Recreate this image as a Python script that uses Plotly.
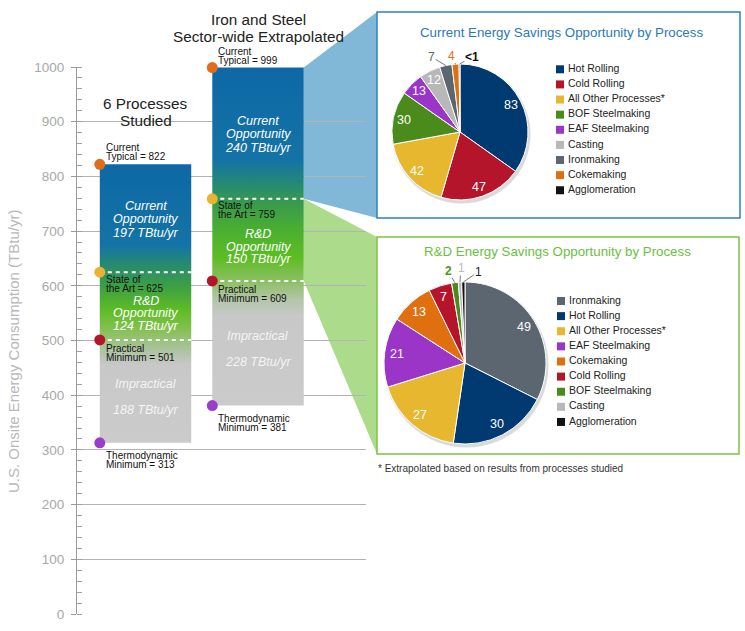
import math
import plotly.graph_objects as go

W, H = 745, 631

# ---------------- data ----------------
column_titles = [["6 Processes", "Studied"], ["Iron and Steel", "Sector-wide Extrapolated"]]
current_typical = [822, 999]
state_of_the_art = [625, 759]
practical_minimum = [501, 609]
thermodynamic_minimum = [313, 381]
current_opportunity = [197, 240]
rd_opportunity = [124, 150]
impractical = [188, 228]
y_tick_values = [0, 100, 200, 300, 400, 500, 600, 700, 800, 900, 1000]

current_processes = ["Hot Rolling", "Cold Rolling", "All Other Processes*", "BOF Steelmaking",
                     "EAF Steelmaking", "Casting", "Ironmaking", "Cokemaking", "Agglomeration"]
current_savings = [83, 47, 42, 30, 13, 12, 7, 4, 0.5]
current_savings_text = ["83", "47", "42", "30", "13", "12", "7", "4", "<1"]

rd_processes = ["Ironmaking", "Hot Rolling", "All Other Processes*", "EAF Steelmaking",
                "Cokemaking", "Cold Rolling", "BOF Steelmaking", "Casting", "Agglomeration"]
rd_savings = [49, 30, 27, 21, 13, 7, 2, 1, 1]
rd_savings_text = ["49", "30", "27", "21", "13", "7", "2", "1", "1"]

# ---------------- styles ----------------
FONT = "Liberation Sans, Arial, sans-serif"
process_colors = {
    "Hot Rolling": "#003a70", "Cold Rolling": "#b5152b", "All Other Processes*": "#e6b72f",
    "BOF Steelmaking": "#4a8b1c", "EAF Steelmaking": "#9a35c8", "Casting": "#b8b8b8",
    "Ironmaking": "#5c6670", "Cokemaking": "#e0700f", "Agglomeration": "#111111",
}
marker_colors = ["#e06c1e", "#e8b533", "#b5152b", "#9b3dcc"]
gradient_stops = [
    [(313, "#cbcbcb"), (455, "#c8c8c8"), (485, "#a9c39b"), (520, "#85c052"), (555, "#5ebd24"),
     (600, "#3c9f44"), (640, "#268a72"), (675, "#1473a6"), (822, "#0d68a5")],
    [(381, "#cbcbcb"), (545, "#c8c8c8"), (575, "#b3c6a8"), (610, "#8abf62"), (650, "#5ebd24"),
     (700, "#4bb030"), (750, "#3a9a4c"), (785, "#268a72"), (830, "#1473a6"), (999, "#0d68a5")],
]

PLOT_L, PLOT_R, PLOT_T, PLOT_B = 77, 366, 67, 614
X_RANGE = [0.391, 2.96]
Y_RANGE = [0, 1000]
BAR_POS = [1, 2]
BAR_W = 0.813


def xpx(x):
    return PLOT_L + (x - X_RANGE[0]) / (X_RANGE[1] - X_RANGE[0]) * (PLOT_R - PLOT_L)


def ypx(v):
    return PLOT_B - (v - Y_RANGE[0]) / (Y_RANGE[1] - Y_RANGE[0]) * (PLOT_B - PLOT_T)


def pxx(p):
    return p / W


def pxy(p):
    return 1 - p / H


fig = go.Figure()
annotations = []


def ann(text, x, y, size, color, xref="paper", yref="paper", xanchor="center", yanchor="middle",
        xshift=0, yshift=0, **kw):
    d = dict(text=text, x=x, y=y, xref=xref, yref=yref, xanchor=xanchor, yanchor=yanchor,
             xshift=xshift, yshift=yshift, showarrow=False, borderpad=0,
             font=dict(family=FONT, size=size, color=color))
    d.update(kw)
    annotations.append(d)


# ---------------- bars (gradient polygons) ----------------
for i in range(2):
    c = BAR_POS[i]
    x0, x1 = c - BAR_W / 2, c + BAR_W / 2
    lo, hi = thermodynamic_minimum[i], current_typical[i]
    cs = [[(v - lo) / (hi - lo), col] for v, col in gradient_stops[i]]
    fig.add_trace(go.Scatter(
        x=[x0, x1, x1, x0, x0], y=[lo, lo, hi, hi, lo], mode="lines",
        line=dict(width=0, color="rgba(0,0,0,0)"), fill="toself",
        fillgradient=dict(type="vertical", colorscale=cs, start=lo, stop=hi),
        hoverinfo="skip", showlegend=False))
    for v in (state_of_the_art[i], practical_minimum[i]):
        fig.add_trace(go.Scatter(x=[x0, x1], y=[v, v], mode="lines",
                                 line=dict(color="white", width=2, dash="4px,4px"),
                                 hoverinfo="skip", showlegend=False))
    vals = [current_typical[i], state_of_the_art[i], practical_minimum[i], thermodynamic_minimum[i]]
    fig.add_trace(go.Scatter(x=[x0] * 4, y=vals, mode="markers", cliponaxis=False,
                             marker=dict(size=11, color=marker_colors, line=dict(width=0)),
                             hoverinfo="skip", showlegend=False))
    # marker labels
    label_lines = [("Current", "Typical = %d"), ("State of", "the Art = %d"),
                   ("Practical", "Minimum = %d"), ("Thermodynamic", "Minimum = %d")]
    offsets = [(-16.5, -7.5), (7, 16), (8.5, 17.5), (13, 22)]
    for (l1, l2), (o1, o2), v in zip(label_lines, offsets, vals):
        ann(l1, x0, v, 10, "#111", xref="x", yref="y", xanchor="left", xshift=5, yshift=-o1)
        ann(l2 % v, x0, v, 10, "#111", xref="x", yref="y", xanchor="left", xshift=5, yshift=-o2)
    # in-bar texts
    blocks = [
        ((current_typical[i] + state_of_the_art[i]) / 2, 1,
         ["Current", "Opportunity", "%d TBtu/yr" % current_opportunity[i]], 13.5, "white"),
        ((state_of_the_art[i] + practical_minimum[i]) / 2, 7,
         ["R&D", "Opportunity", "%d TBtu/yr" % rd_opportunity[i]], 12.5, "white"),
        ((practical_minimum[i] + thermodynamic_minimum[i]) / 2, 6,
         ["Impractical", "%d TBtu/yr" % impractical[i]], 26, "rgba(255,255,255,0.82)"),
    ]
    for yc, shift, lines, spacing, col in blocks:
        n = len(lines)
        for k, t in enumerate(lines):
            off = shift + (k - (n - 1) / 2) * spacing
            ann("<i>%s</i>" % t, c, yc, 12.5, col, xref="x", yref="y", yshift=-off)
    # column titles
    for k, t in enumerate(column_titles[i]):
        ann(t, c, pxy([103, 120][k] if i == 0 else [19, 36][k]), 15.3, "#222", xref="x")

# ---------------- pies ----------------
pies = [
    dict(labels=current_processes, values=current_savings, text=current_savings_text,
         cx=460, cy=132, r=68, out_pos=[(431.5, 57), (451, 55.5), (472, 57)],
         out_colors=["#666666", "#e07020", "#111111"], out_bold=[False, False, True]),
    dict(labels=rd_processes, values=rd_savings, text=rd_savings_text,
         cx=465, cy=363, r=81, out_pos=[(448, 271), (461, 268), (478, 272)],
         out_colors=["#4a9a20", "#bbbbbb", "#222222"], out_bold=[True, False, False]),
]
pie_shadows = []
for p in pies:
    n = len(p["values"])
    fig.add_trace(go.Pie(
        labels=p["labels"], values=p["values"], textinfo="none",
        sort=False, direction="clockwise", rotation=0,
        marker=dict(colors=[process_colors[l] for l in p["labels"]], line=dict(color="white", width=1)),
        domain=dict(x=[pxx(p["cx"] - p["r"]), pxx(p["cx"] + p["r"])],
                    y=[pxy(p["cy"] + p["r"]), pxy(p["cy"] - p["r"])]),
        showlegend=False, hoverinfo="label+value"))
    total = sum(p["values"])
    for idx in range(n):
        mid = (sum(p["values"][:idx]) + p["values"][idx] / 2) / total * 2 * math.pi
        if idx < n - 3:
            rr = 0.85 * p["r"]
            tx = p["cx"] + rr * math.sin(mid)
            ty = p["cy"] - rr * math.cos(mid)
            ann(p["text"][idx], pxx(tx), pxy(ty), 12.5, "white")
        else:
            j = idx - (n - 3)
            hx = p["cx"] + p["r"] * math.sin(mid)
            hy = p["cy"] - p["r"] * math.cos(mid)
            tx, ty = p["out_pos"][j]
            t = p["text"][idx]
            if p["out_bold"][j]:
                t = "<b>%s</b>" % t
            annotations.append(dict(
                text=t, x=pxx(hx), y=pxy(hy), xref="paper", yref="paper", showarrow=True,
                ax=tx - hx, ay=ty - hy, arrowhead=0, arrowwidth=0.8, arrowcolor="#555",
                standoff=0, borderpad=0, font=dict(family=FONT, size=12, color=p["out_colors"][j])))
    for dx, dy, dr, a in [(1, 2, 1.5, 0.07), (2, 3, 0.5, 0.08)]:
        pie_shadows.append(dict(
            type="circle", xref="paper", yref="paper", layer="below", line=dict(width=0),
            fillcolor="rgba(0,0,0,%g)" % a,
            x0=pxx(p["cx"] + dx - p["r"] - dr), x1=pxx(p["cx"] + dx + p["r"] + dr),
            y0=pxy(p["cy"] + dy + p["r"] + dr), y1=pxy(p["cy"] + dy - p["r"] - dr)))

# ---------------- custom legends ----------------
legend_specs = [("x2", "y2", current_processes), ("x3", "y3", rd_processes)]
for xa, ya, labels in legend_specs:
    n = len(labels)
    rows = list(range(n))
    fig.add_trace(go.Scatter(x=[0] * n, y=rows, mode="markers", xaxis=xa, yaxis=ya, cliponaxis=False,
                             marker=dict(symbol="square", size=8, color=[process_colors[l] for l in labels],
                                         line=dict(width=0)),
                             hoverinfo="skip", showlegend=False))
    fig.add_trace(go.Scatter(x=[8] * n, y=rows, mode="text", xaxis=xa, yaxis=ya, cliponaxis=False,
                             text=labels, textposition="middle right",
                             textfont=dict(family=FONT, size=10.5, color="#222"),
                             hoverinfo="skip", showlegend=False))

# ---------------- shapes: connectors and boxes ----------------
bar2_right = xpx(BAR_POS[1] + BAR_W / 2)
BOX1 = (377, 12, 740, 218)
BOX2 = (377, 237, 739, 454)


def path(pts):
    return "M " + " L ".join("%f,%f" % (pxx(a), pxy(b)) for a, b in pts) + " Z"


shapes = [
    dict(type="path", xref="paper", yref="paper", layer="below", line=dict(width=0),
         fillcolor="#82b8d7",
         path=path([(bar2_right, ypx(current_typical[1])), (BOX1[0], BOX1[1]), (BOX1[0], BOX1[3]),
                    (bar2_right, ypx(state_of_the_art[1]))])),
    dict(type="path", xref="paper", yref="paper", layer="below", line=dict(width=0),
         fillcolor="#acdb8b",
         path=path([(bar2_right, ypx(state_of_the_art[1])), (BOX2[0], BOX2[1]), (BOX2[0], BOX2[3]),
                    (bar2_right, ypx(practical_minimum[1]))])),
    dict(type="rect", xref="paper", yref="paper", layer="below", fillcolor="white",
         line=dict(color="#2f7fbf", width=1.5),
         x0=pxx(BOX1[0]), x1=pxx(BOX1[2]), y0=pxy(BOX1[3]), y1=pxy(BOX1[1])),
    dict(type="rect", xref="paper", yref="paper", layer="below", fillcolor="white",
         line=dict(color="#7ec345", width=1.5),
         x0=pxx(BOX2[0]), x1=pxx(BOX2[2]), y0=pxy(BOX2[3]), y1=pxy(BOX2[1])),
] + pie_shadows

# ---------------- other texts ----------------
ann("Current Energy Savings Opportunity by Process", pxx(561), pxy(33), 13.3, "#2a7ab8")
ann("R&D Energy Savings Opportunity by Process", pxx(557.5), pxy(252), 13.3, "#6abf40")
ann("* Extrapolated based on results from processes studied", pxx(377), pxy(468), 10, "#333",
    xanchor="left")
ann("U.S. Onsite Energy Consumption (TBtu/yr)", pxx(13), pxy(352), 15, "#b8b8b8", textangle=-90)

LEG_X_W = 180
LEG1_FIRST, LEG2_FIRST, LEG_STEP = 69.3, 301, 15.12
fig.update_layout(
    width=W, height=H, autosize=False,
    margin=dict(l=0, r=0, t=0, b=0, pad=0),
    paper_bgcolor="white", plot_bgcolor="rgba(0,0,0,0)",
    font=dict(family=FONT),
    showlegend=False,
    xaxis=dict(domain=[pxx(PLOT_L), pxx(PLOT_R)], range=X_RANGE, visible=False, fixedrange=True),
    yaxis=dict(domain=[pxy(PLOT_B), pxy(PLOT_T)], range=Y_RANGE, tickvals=y_tick_values,
               showgrid=True, gridcolor="#b3b3b3", gridwidth=1, zeroline=False,
               showline=True, linecolor="#9a9a9a", linewidth=1,
               ticks="outside", ticklen=5, tickcolor="#9a9a9a", ticklabelstandoff=4,
               tickfont=dict(family=FONT, size=13.5, color="#a8a8a8"),
               minor=dict(ticks="inside", ticklen=5, dtick=20, tickcolor="#a0a0a0", showgrid=False),
               automargin=False, fixedrange=True),
    xaxis2=dict(domain=[pxx(560), pxx(560 + LEG_X_W)], range=[0, LEG_X_W], visible=False, fixedrange=True,
                anchor="y2"),
    yaxis2=dict(domain=[pxy(LEG1_FIRST + 8.5 * LEG_STEP), pxy(LEG1_FIRST - 0.5 * LEG_STEP)], range=[8.5, -0.5],
                visible=False, fixedrange=True, anchor="x2"),
    xaxis3=dict(domain=[pxx(561), pxx(561 + LEG_X_W)], range=[0, LEG_X_W], visible=False, fixedrange=True,
                anchor="y3"),
    yaxis3=dict(domain=[pxy(LEG2_FIRST + 8.5 * LEG_STEP), pxy(LEG2_FIRST - 0.5 * LEG_STEP)], range=[8.5, -0.5],
                visible=False, fixedrange=True, anchor="x3"),
    annotations=annotations,
    shapes=shapes,
)

fig.write_html(
    "out.html",
    config={"displayModeBar": False},
    post_script="document.body.style.margin='0';document.body.style.overflow='hidden';"
                "document.documentElement.style.overflow='hidden';",
)
